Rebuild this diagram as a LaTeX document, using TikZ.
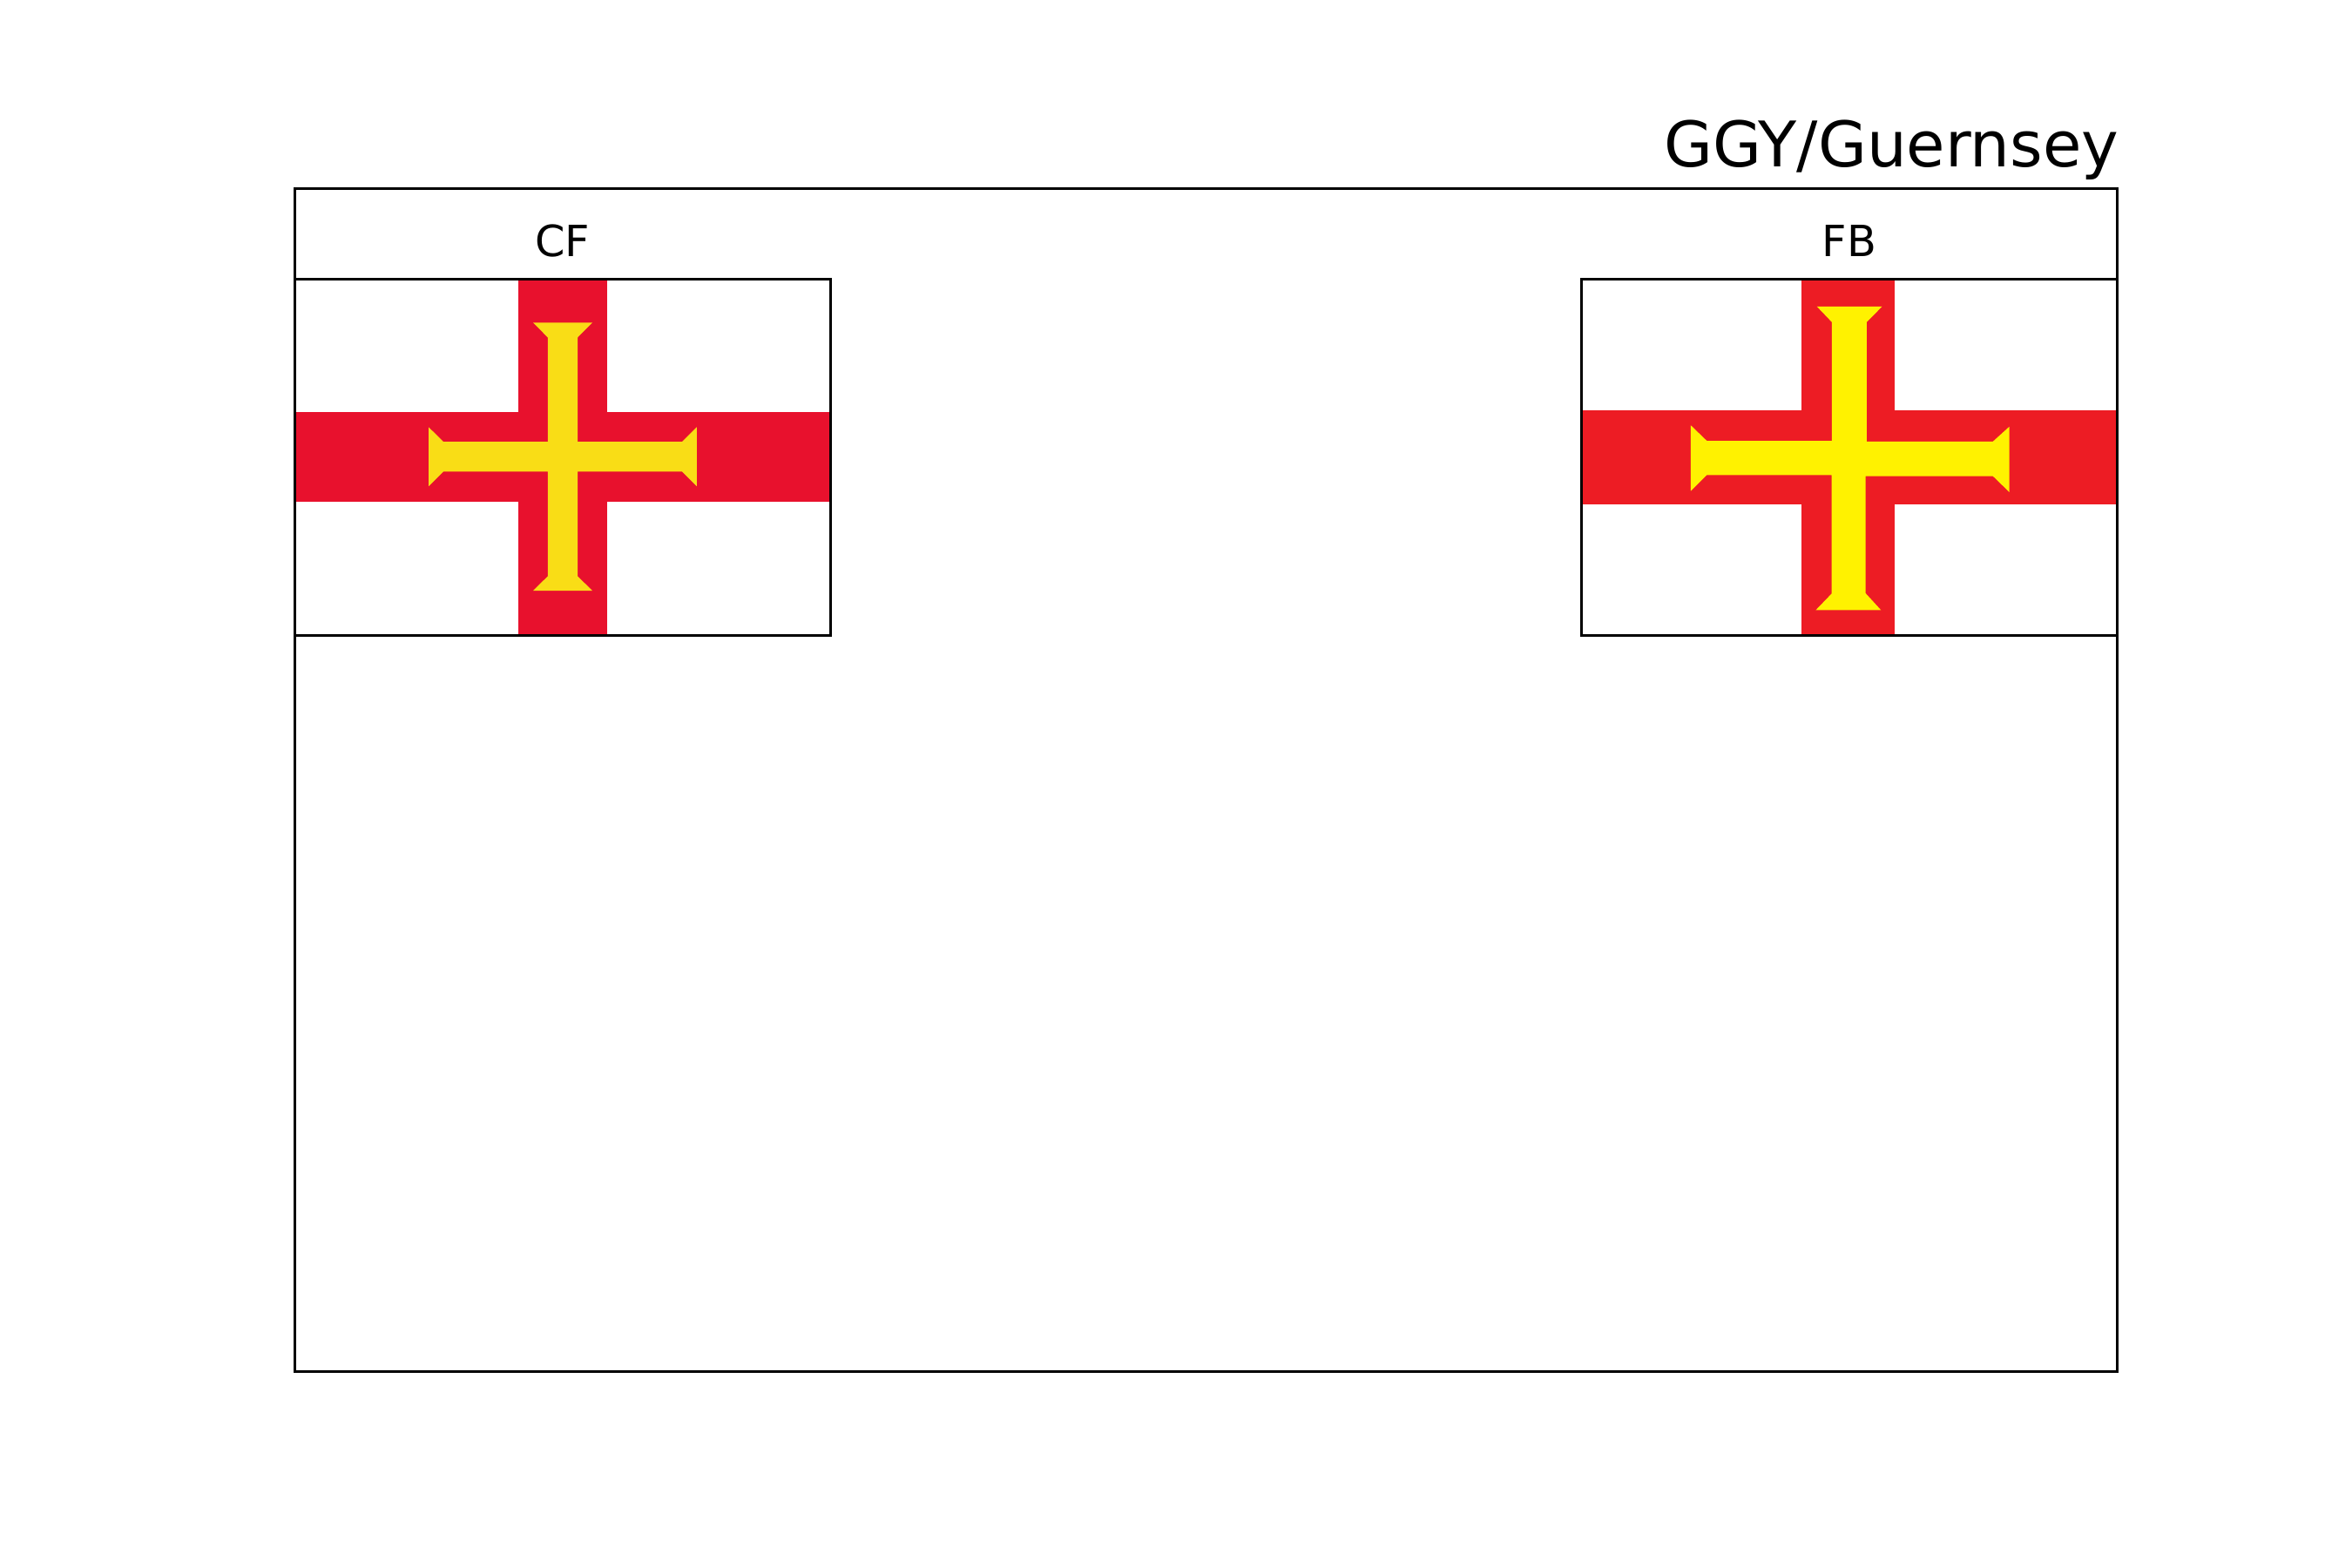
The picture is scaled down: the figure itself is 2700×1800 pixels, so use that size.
\documentclass[tikz,border=0pt]{standalone}
\usepackage{fontspec}
\setmainfont{DejaVu Sans}
\definecolor{cfred}{HTML}{E8112D}
\definecolor{cfyellow}{HTML}{F9DD16}
\definecolor{fbred}{HTML}{ED1C24}
\definecolor{fbyellow}{HTML}{FFF200}
\tikzset{
  frame/.style={draw=black,line width=0.8pt,line join=miter},
  titletext/.style={inner sep=0pt,anchor=base east,font=\fontsize{17.4}{21}\selectfont},
  labeltext/.style={inner sep=0pt,anchor=base,font=\fontsize{11.9}{14}\selectfont}
}
\begin{document}
\begin{tikzpicture}[x=0.2409pt,y=-0.2409pt]
\useasboundingbox (0,0) rectangle (2700,1800);
\fill[white] (0,0) rectangle (2700,1800);
% CF flag
\fill[white] (338.5,320.4) rectangle (953.4,729.6);
\fill[cfred] (594.8,320.4) rectangle (697.1,729.6);
\fill[cfred] (338.5,472.9) rectangle (953.4,575.7);
\fill[cfyellow] (612.1,370.4) -- (679.9,370.4) -- (663,387.5) -- (663,507.1) -- (783,507.1) -- (799.8,490.4) -- (799.8,558.2) -- (783,541.4) -- (663,541.4) -- (663,661.4) -- (679.9,678) -- (612.1,678) -- (628.9,661.4) -- (628.9,541.4) -- (509,541.4) -- (492.1,558.2) -- (492.1,490.4) -- (509,507.1) -- (628.9,507.1) -- (628.9,387.5) -- cycle;
% FB flag
\fill[white] (1815.5,320.4) rectangle (2430.4,729.6);
\fill[fbred] (2068.4,320.4) rectangle (2174.5,729.6);
\fill[fbred] (1815.5,471) rectangle (2430.4,579.2);
\fill[fbyellow] (2085.7,351.8) -- (2160.6,351.8) -- (2142.9,369.8) -- (2142.9,506.9) -- (2287.7,506.9) -- (2306.6,489.8) -- (2306.6,564.9) -- (2287.7,546.5) -- (2141.6,546.5) -- (2141.6,681) -- (2159.3,700.4) -- (2084.4,700.4) -- (2102.5,681.6) -- (2102.5,545.3) -- (1959.4,545.3) -- (1940.9,563.7) -- (1940.9,488.2) -- (1959.4,506.1) -- (2102.9,506.1) -- (2102.9,369.8) -- cycle;
% frames
\draw[frame] (338.5,216.3) rectangle (2430.4,1574.2);
\draw[frame] (338.5,320.4) rectangle (953.4,729.6);
\draw[frame] (1815.5,320.4) rectangle (2430.4,729.6);
% texts
\node[titletext] (title) at (2433,191) {GGY/Guernsey};
\node[labeltext] (cf) at (645.9,294.5) {CF};
\node[labeltext] (fb) at (2123,294.5) {FB};
\end{tikzpicture}
\end{document}
